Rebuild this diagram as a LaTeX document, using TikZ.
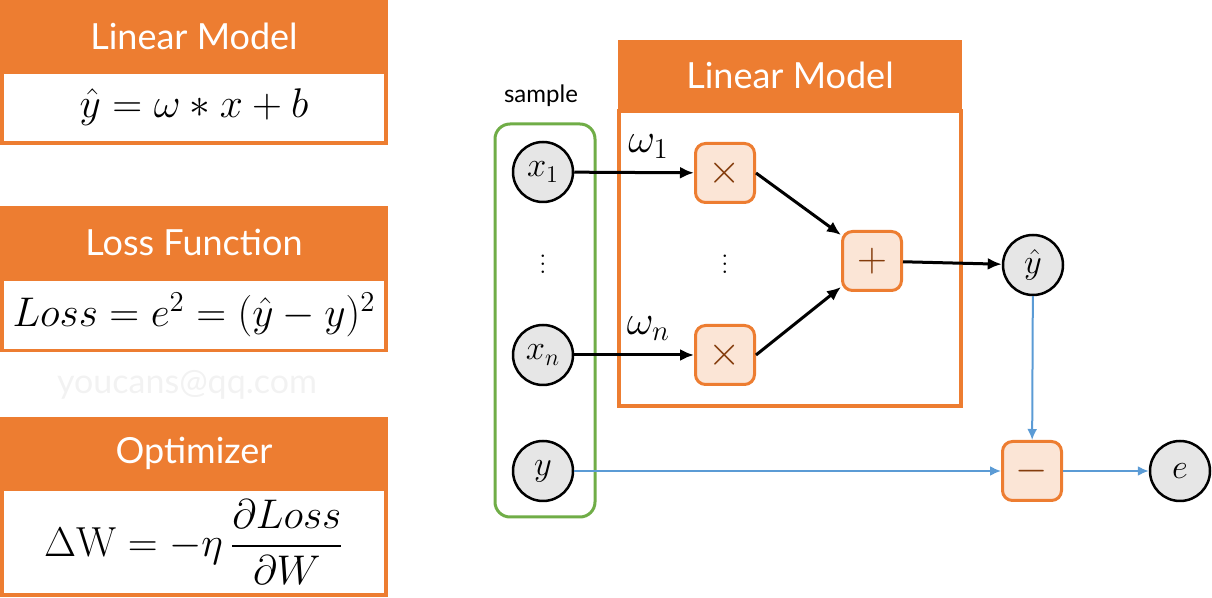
\documentclass[tikz,border=0pt]{standalone}
\usepackage{amsmath}
\usepackage{fontspec}
\setsansfont{Lato}
\usepackage{tikz}
\usetikzlibrary{arrows.meta}
\definecolor{boxorange}{HTML}{ED7D31}
\definecolor{oplight}{HTML}{FBE5D6}
\definecolor{opbrown}{HTML}{843C0C}
\definecolor{flowblue}{HTML}{5B9BD5}
\definecolor{samplegreen}{HTML}{70AD47}
\definecolor{nodegray}{HTML}{E6E6E6}

\begin{document}
\begin{tikzpicture}[x=0.5pt, y=-0.5pt,
        headbox/.style = {rectangle, fill=boxorange, text=white, inner sep=0pt, font=\sffamily\fontsize{18}{20}\selectfont},
        bodybox/.style = {rectangle, draw=boxorange, fill=white, line width=1.9pt, inner sep=0pt, font=\fontsize{21}{24}\selectfont},
        varnode/.style = {circle, draw=black, fill=nodegray, line width=1.25pt, minimum size=30pt, inner sep=0pt, font=\fontsize{18}{20}\selectfont},
        opbox/.style = {rectangle, rounded corners=5pt, draw=boxorange, fill=oplight, line width=1.5pt, minimum size=29.5pt, inner sep=0pt, text=opbrown, font=\fontsize{20}{22}\selectfont},
        flowline/.style = {black, line width=1.5pt},
        errline/.style = {flowblue, line width=1pt, >={Latex[length=5.5pt, width=5pt]}},
        >={Latex[length=7pt, width=6pt]}
        ]

        \useasboundingbox (0,0) rectangle (1212,598);

        % left column
        \node (lmeq) at (194,107.5) [bodybox, minimum width=192pt, minimum height=35.5pt] {$\hat{y} = \omega * x + b$};
        \node (lmhead) at (194,36) [headbox, minimum width=194pt, minimum height=36pt] {Linear Model};
        \node (losseq) at (194,315) [bodybox, minimum width=192pt, minimum height=35.5pt] {$Loss = e^2 = (\hat{y} - y)^2$};
        \node (losshead) at (194,242.5) [headbox, minimum width=194pt, minimum height=36.5pt] {Loss Function};
        \node (opteq) at (194,542) [bodybox, minimum width=192pt, minimum height=53pt] {$\Delta\mathrm{W} = -\eta\,\dfrac{\partial Loss}{\partial W}$};
        \node (opthead) at (194,453) [headbox, minimum width=194pt, minimum height=36pt] {Optimizer};
        \node (mark) at (187,385) [text=black!5, font=\sffamily\fontsize{17}{20}\selectfont] {youcans@qq.com};

        % sample
        \node (samplebox) at (545,320.5) [draw=samplegreen, line width=1.5pt, rounded corners=7.5pt, minimum width=50pt, minimum height=196.5pt] {};
        \node (samplelabel) at (541,96) [font=\sffamily\fontsize{12}{14}\selectfont] {sample};
        \node (x1) at (543,172) [varnode] {$x_1$};
        \node (xn) at (543,355) [varnode] {$x_n$};
        \node (y) at (543,471) [varnode] {$y$};
        \node (xdots) at (543,258) [font=\fontsize{13}{15}\selectfont] {$\vdots$};

        % linear model
        \node (modelbody) at (790,258.5) [bodybox, minimum width=171pt, minimum height=147.5pt] {};
        \node (modelhead) at (790,75.5) [headbox, minimum width=172pt, minimum height=35.5pt] {Linear Model};
        \node (mul1) at (725,173) [opbox] {$\times$};
        \node (muln) at (725,355) [opbox] {$\times$};
        \node (muldots) at (725,258) [font=\fontsize{13}{15}\selectfont] {$\vdots$};
        \node (plus) at (872,261) [opbox] {$+$};

        % output and error
        \node (yhat) at (1033,265) [varnode] {$\hat{y}$};
        \node (minus) at (1032,471) [opbox] {$-$};
        \node (e) at (1180,471) [varnode] {$e$};

        \draw[->, flowline] (x1) -- (mul1) node (w1) [pos=0.62, above=3pt, font=\fontsize{20}{22}\selectfont] {$\omega_1$};
        \draw[->, flowline] (xn) -- (muln) node (wn) [pos=0.62, above=3pt, font=\fontsize{20}{22}\selectfont] {$\omega_n$};
        \draw[->, flowline] (mul1.east) -- (plus.140);
        \draw[->, flowline] (muln.east) -- (plus.220);
        \draw[->, flowline] (plus) -- (yhat);
        \draw[->, errline] (yhat) -- (minus);
        \draw[->, errline] (y) -- (minus);
        \draw[->, errline] (minus) -- (e);
    \end{tikzpicture}
\end{document}
